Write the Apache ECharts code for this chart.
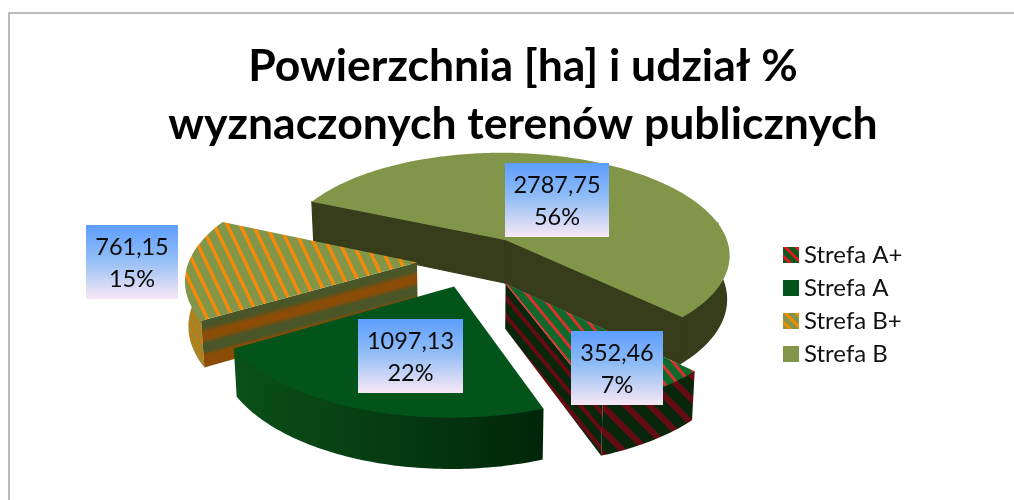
<!DOCTYPE html>
<html><head><meta charset="utf-8">
<style>html,body{margin:0;padding:0;background:#fff}#c{width:1014px;height:500px}</style>
<script src="https://cdn.jsdelivr.net/npm/echarts@6/dist/echarts.min.js"></script>
</head><body><div id="c"></div>
<script>
const titleLines = ['Powierzchnia [ha] i udział %', 'wyznaczonych terenów publicznych'];
const categories = ['Strefa A+', 'Strefa A', 'Strefa B+', 'Strefa B'];
const areaValues = [352.46, 1097.13, 761.15, 2787.75];
const valueLabels = ['352,46', '1097,13', '761,15', '2787,75'];

// projection of the tilted pie
const view = {cx: 474, cy: 261, R: 228, k: 0.46, p: 0.14, explode: 0.25, D: 44, firstAngle: 134.8};
// label boxes: left, top, width, height
const labelBoxes = [[571,331,92,74],[358,319,105,74],[86,225,92,74],[505,163,104,74]];

function tile(w,h,bg,fg,frac){
  const c=document.createElement('canvas');c.width=w;c.height=h;
  const g=c.getContext('2d');g.fillStyle=bg;g.fillRect(0,0,w,h);g.fillStyle=fg;
  const f=frac*w;
  for(const x of [-2*w,-w,0,w]){g.beginPath();g.moveTo(x,0);g.lineTo(x+f,0);g.lineTo(x+f+w,h);g.lineTo(x+w,h);g.closePath();g.fill();}
  return {image:c,repeat:'repeat'};
}
const lin=(a,b)=>({type:'linear',x:0,y:0,x2:1,y2:0,colorStops:[{offset:0,color:a},{offset:1,color:b}]});
const styles=[
 {top:tile(13,16,'#0e6a2c','#d8322e',.3),arc:tile(24,24,'#07260c','#650c12',.36),wall:tile(15,18,'#07260c','#650c12',.36),legend:tile(11,11,'#0a5a20','#e01a1a',.38)},
 {top:'#03541a',arc:lin('#0b5019','#01260a'),legend:'#03541a'},
 {top:tile(13,27,'#82964a','#f58a0a',.3),arc:tile(7,12,'#9c8a30','#c07a10',.45),wall:'bands',legend:tile(11,11,'#82964a','#f88a00',.38)},
 {top:'#82964a',arc:'#373c1a',wall:'#373c1a',legend:'#82964a'}
];
const total=areaValues.reduce((a,b)=>a+b,0);
function proj(U,V,h){const s=1/(1-view.p*V),q=1-0.012*h;
  return [view.cx+view.R*U*s*q, view.cy+view.R*view.k*V*s*q+view.D*s*h];}

function render(idx,api){
  const startV=api.value(0),val=api.value(1);
  const a0=view.firstAngle+startV/total*360,a1=a0+val/total*360,mid=(a0+a1)/2;
  const rad=d=>d*Math.PI/180;
  const ex=view.explode*Math.sin(rad(mid)),ey=-view.explode*Math.cos(rad(mid));
  const P=(a,h,r=1)=>proj(ex+r*Math.sin(rad(a)),ey-r*Math.cos(rad(a)),h);
  const O=h=>proj(ex,ey,h);
  const st=styles[idx],ch=[];
  const solid=f=>typeof f==='string'?{fill:f,stroke:f,lineWidth:1.2}:{fill:f};
  const arcPts=[];for(let a=a0;a<a1;a+=1)arcPts.push(a);arcPts.push(a1);
  // outer rim, only the part turned to the viewer; its upper edge tucks under the top face
  const front=arcPts.filter(a=>{const n=((a%360)+360)%360;return n>80&&n<280;});
  if(front.length>1){
    const last=front.length-1;
    const pts=front.map((a,i)=>P(a,0,i===0||i===last?1:.98)).concat(front.slice().reverse().map(a=>P(a,1)));
    ch.push({type:'polygon',shape:{points:pts},style:solid(st.arc)});
  }
  const wall=a=>{
    let fill=st.wall||st.arc;
    if(fill==='bands'){
      const t=P(a,0),b=P(a,1),o=O(0);
      const dx=o[0]-t[0],dy=o[1]-t[1],l=Math.hypot(dx,dy),nx=-dy/l,ny=dx/l,L=(b[1]-t[1])*Math.abs(ny);
      const g='#4a5528',c='#8a4c06';
      fill={type:'linear',global:true,x:t[0],y:t[1],x2:t[0]+nx*Math.sign(ny)*L,y2:t[1]+ny*Math.sign(ny)*L,
        colorStops:[[0,g],[.16,g],[.28,c],[.42,c],[.52,g],[.68,g],[.76,c],[1,c]].map(s=>({offset:s[0],color:s[1]}))};
    }
    ch.push({type:'polygon',shape:{points:[O(0),P(a,0),P(a,1),O(1)]},style:solid(fill)});
  };
  if(-Math.sin(rad(a0))>0)wall(a0);
  if(Math.sin(rad(a1))>0)wall(a1);
  ch.push({type:'polygon',shape:{points:[O(0)].concat(arcPts.map(a=>P(a,0)))},style:{fill:st.top}});
  // data label
  const box=labelBoxes[idx];
  ch.push({type:'rect',z2:50,shape:{x:box[0],y:box[1],width:box[2],height:box[3]},
    style:{fill:{type:'linear',x:0,y:0,x2:0,y2:1,colorStops:[{offset:0,color:'#5e9eff'},{offset:.45,color:'#8fbcf5'},{offset:1,color:'#f8e8f6'}]}}});
  ch.push({type:'text',z2:51,x:box[0]+box[2]/2,y:box[1]+box[3]/2+1,
    style:{text:valueLabels[idx]+'\n'+Math.round(val/total*100)+'%',align:'center',verticalAlign:'middle',
      font:'23.5px Lato',lineHeight:32,fill:'#0a0a0a'}});
  return {type:'group',children:ch};
}
let cum=0;
const starts=areaValues.map(v=>{const s=cum;cum+=v;return s;});
const drawOrder=[3,2,1,0];
const option={
  animation:false,backgroundColor:'#fff',
  title:{text:titleLines.join('\n'),left:518,top:33,textAlign:'center',
    textStyle:{fontFamily:'Lato',fontWeight:'bold',fontSize:44.5,lineHeight:58,color:'#000'}},
  legend:{orient:'vertical',left:778,top:238,itemWidth:16,itemHeight:16,itemGap:9,icon:'rect',
    textStyle:{fontFamily:'Lato',fontSize:24,lineHeight:24,color:'#111'},
    data:categories.map((n,i)=>({name:n,icon:'rect',itemStyle:{color:styles[i].legend}}))},
  graphic:[{type:'polyline',shape:{points:[[9,500],[9,13],[1014,13]]},style:{stroke:'#a6a6a6',lineWidth:1.5,fill:null}}],
  series:drawOrder.map((i,z)=>({
    type:'custom',name:categories[i],coordinateSystem:'none',z:2+z,
    itemStyle:{color:styles[i].legend},
    data:[[starts[i],areaValues[i]]],
    renderItem:(p,api)=>render(i,api)
  }))
};
echarts.init(document.getElementById('c'),null,{renderer:'canvas'}).setOption(option);
</script></body></html>
